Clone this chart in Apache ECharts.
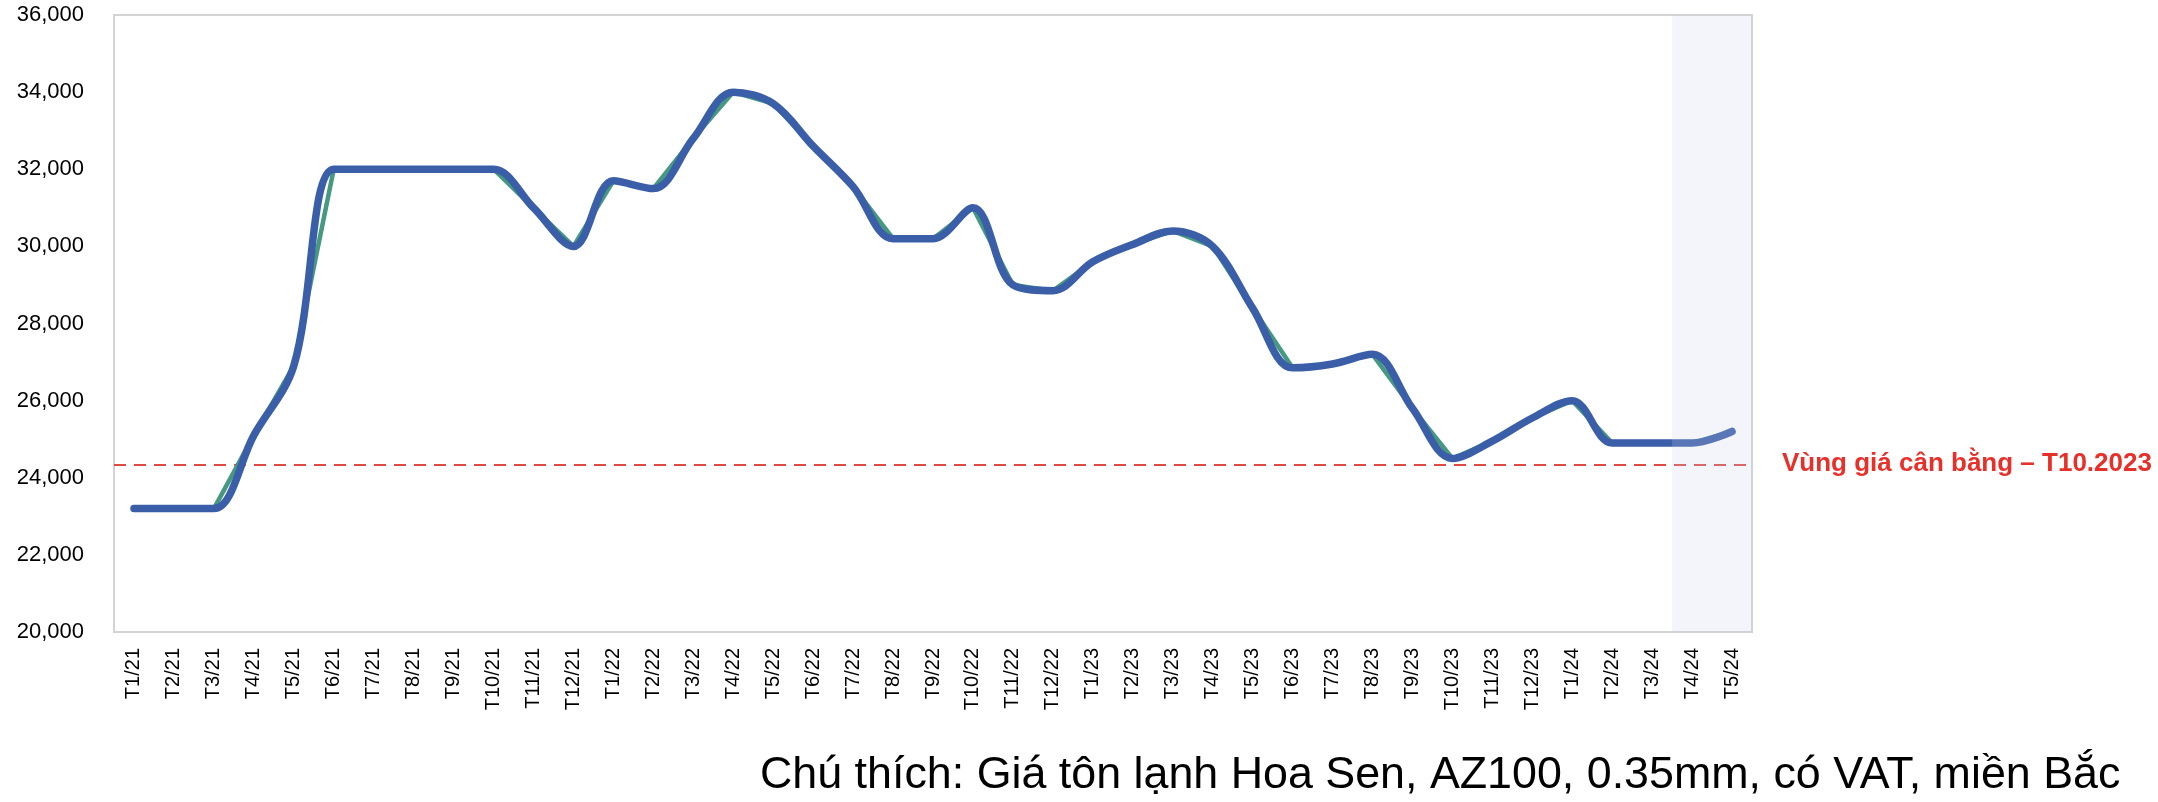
<!DOCTYPE html>
<html>
<head>
<meta charset="utf-8">
<script src="https://cdn.jsdelivr.net/npm/echarts@6/dist/echarts.min.js"></script>
<style>
  html, body { margin: 0; padding: 0; background: #ffffff; }
  #chart { width: 2158px; height: 802px; }
</style>
</head>
<body>
<div id="chart"></div>
<script>
// ---- data ----
const categories = [
  'T1/21','T2/21','T3/21','T4/21','T5/21','T6/21','T7/21','T8/21','T9/21','T10/21','T11/21','T12/21',
  'T1/22','T2/22','T3/22','T4/22','T5/22','T6/22','T7/22','T8/22','T9/22','T10/22','T11/22','T12/22',
  'T1/23','T2/23','T3/23','T4/23','T5/23','T6/23','T7/23','T8/23','T9/23','T10/23','T11/23','T12/23',
  'T1/24','T2/24','T3/24','T4/24','T5/24'
];
const prices = [
  23200, 23200, 23200, 25100, 26900, 32000, 32000, 32000, 32000, 32000, 31000, 30000,
  31700, 31500, 32800, 34000, 33700, 32600, 31550, 30200, 30200, 31000, 29000, 28850,
  29600, 30050, 30400, 30000, 28400, 26850, 26950, 27200, 25800, 24500, 24950, 25550,
  26000, 24900, 24900, 24900, 25200
];
const yTicks = { min: 20000, max: 36000, step: 2000 };
const balancePrice = 24350;
const balanceLabel = 'Vùng giá cân bằng – T10.2023';
const forecastFrom = 'T4/24';
const forecastTo = 'T5/24';
const caption = 'Chú thích: Giá tôn lạnh Hoa Sen, AZ100, 0.35mm, có VAT, miền Bắc';

// ---- chart ----
const FONT = 'Liberation Sans, Arial, sans-serif';
const chart = echarts.init(document.getElementById('chart'));
const fIdx = categories.indexOf(forecastFrom);
const tIdx = categories.indexOf(forecastTo);

chart.setOption({
  backgroundColor: '#ffffff',
  animation: false,
  title: {
    text: caption,
    left: 760,
    top: 753,
    padding: 0,
    textStyle: { fontFamily: FONT, fontSize: 44.8, fontWeight: 'normal', color: '#000000' }
  },
  grid: {
    left: 114, right: 406, top: 15, bottom: 170,
    show: true, borderColor: '#d3d3d3', borderWidth: 2, backgroundColor: '#ffffff'
  },
  xAxis: [
    {
      type: 'category',
      data: categories,
      boundaryGap: true,
      axisLine: { show: false },
      axisTick: { show: false },
      axisLabel: { rotate: 90, interval: 0, margin: 16, fontFamily: FONT, fontSize: 20, color: '#000000' },
      splitLine: { show: false }
    },
    {
      type: 'value',
      min: -0.5,
      max: categories.length - 0.5,
      show: false,
      splitLine: { show: false }
    }
  ],
  yAxis: {
    type: 'value',
    min: yTicks.min, max: yTicks.max, interval: yTicks.step,
    axisLine: { show: false },
    axisTick: { show: false },
    splitLine: { show: false },
    axisLabel: {
      margin: 30, fontFamily: FONT, fontSize: 22, color: '#000000',
      formatter: v => v.toLocaleString('en-US')
    }
  },
  series: [
    {
      type: 'line',
      data: prices,
      smooth: false,
      symbol: 'none',
      z: 2,
      lineStyle: { color: '#44997f', width: 4.5, join: 'round' }
    },
    {
      type: 'line',
      data: prices,
      smooth: 0.35,
      symbol: 'none',
      z: 3,
      lineStyle: { color: '#3a5ea8', width: 7.5, cap: 'round', join: 'round' },
      markLine: {
        silent: true,
        symbol: ['none', 'none'],
        z: 1,
        lineStyle: { color: '#de4a44', width: 2, type: [12, 8] },
        label: {
          show: true, position: 'end', distance: 30,
          formatter: balanceLabel,
          fontFamily: FONT, fontSize: 26, fontWeight: 'bold', color: '#e8302a'
        },
        data: [{ yAxis: balancePrice }]
      }
    },
    {
      type: 'line',
      xAxisIndex: 1,
      data: [],
      z: 10,
      markArea: {
        silent: true,
        z: 10,
        itemStyle: { color: 'rgba(200,209,233,0.22)' },
        data: [[{ xAxis: fIdx - 0.5 }, { xAxis: tIdx + 0.5 }]]
      }
    }
  ]
});
</script>
</body>
</html>
